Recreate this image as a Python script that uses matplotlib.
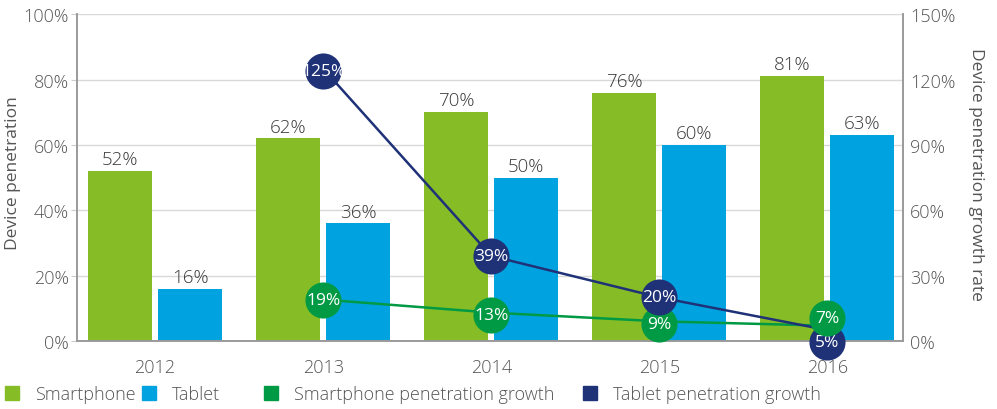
import matplotlib
matplotlib.use("Agg")
import matplotlib.pyplot as plt
from matplotlib.transforms import offset_copy
from matplotlib.lines import Line2D
import numpy as np

plt.rcParams['font.family'] = ['Open Sans', 'DejaVu Sans']
plt.rcParams['font.weight'] = 'light'

years = ['2012', '2013', '2014', '2015', '2016']
smartphone = [52, 62, 70, 76, 81]
tablet = [16, 36, 50, 60, 63]
growth_years = [1, 2, 3, 4]
smartphone_growth = [19, 13, 9, 7]
tablet_growth = [125, 39, 20, 5]

c_smart = '#86BC25'
c_tab = '#00A3E0'
c_sgrow = '#009A44'
c_tgrow = '#1F3278'
c_text = '#3a3a3a'
c_tick = '#555555'
c_axis = '#9a9a9a'

fig = plt.figure(figsize=(9.97, 4.10), dpi=100)
ax = fig.add_axes([0.0772, 0.166, 0.8285, 0.797])
ax2 = ax.twinx()

x = np.arange(len(years))
w = 0.38
gap = 0.036
b1 = ax.bar(x - w / 2 - gap / 2, smartphone, w, color=c_smart, zorder=2)
b2 = ax.bar(x + w / 2 + gap / 2, tablet, w, color=c_tab, zorder=2)
for bars, vals in ((b1, smartphone), (b2, tablet)):
    for r, v in zip(bars, vals):
        ax.annotate(f'{v}%', (r.get_x() + r.get_width() / 2, v), xytext=(0, 2),
                    textcoords='offset points', ha='center', va='bottom',
                    fontsize=13.5, color=c_text)

ax.set_xlim(-0.465, 4.45)
ax.set_ylim(0, 100)
ax.set_yticks(range(0, 101, 20))
ax.set_yticklabels([f'{v}%' for v in range(0, 101, 20)])
ax.set_xticks(x)
ax.set_xticklabels(years)
ax.grid(axis='y', color='#d9d9d9', linewidth=1, zorder=0)
ax.set_axisbelow(True)
ax.set_ylabel('Device penetration', fontsize=12.5, color=c_tick, va='center')
ax.yaxis.set_label_coords(-0.0775, 0.518)

ax2.set_ylim(0, 150)
ax2.set_yticks(range(0, 151, 30))
ax2.set_yticklabels([f'{v}%' for v in range(0, 151, 30)])
ax2.set_ylabel('Device penetration growth rate', fontsize=12.5, color=c_tick,
               rotation=270, va='center')
ax2.yaxis.set_label_coords(1.088, 0.512)

for a in (ax, ax2):
    a.spines['top'].set_visible(False)
    for s in ('left', 'right', 'bottom'):
        a.spines[s].set_color(c_axis)
        a.spines[s].set_linewidth(1.2)
    a.tick_params(axis='both', labelsize=13, colors=c_tick, length=0, pad=6)
ax.tick_params(axis='y', length=4, color='#cccccc', pad=2)
ax.tick_params(axis='x', pad=12)
ax2.tick_params(axis='y', pad=5)

ax2.plot(growth_years, smartphone_growth, color=c_sgrow, lw=1.8, zorder=3)
ax2.plot(growth_years, tablet_growth, color=c_tgrow, lw=1.8, zorder=3)

# circle labels, a few nudged apart so they don't cover each other
s_offsets = [0, -2, -3, 8]
t_offsets = [-2, 0, 0, -12]
s_z = [5, 5, 4, 6]
t_z = [5, 5, 5, 4]
for series, offs, zs, col in ((smartphone_growth, s_offsets, s_z, c_sgrow),
                              (tablet_growth, t_offsets, t_z, c_tgrow)):
    for xi, v, dy, z in zip(growth_years, series, offs, zs):
        tr = offset_copy(ax2.transData, fig=fig, x=0, y=dy, units='dots')
        ax2.plot([xi], [v], 'o', ms=26, color=col, mec='none',
                 transform=tr, zorder=z, clip_on=False)
        ax2.text(xi, v, f'{v}%', transform=tr, ha='center', va='center',
                 fontsize=12.5, fontweight='normal', color='white',
                 zorder=z + 0.1, clip_on=False)

# legend entries placed one by one to match the spacing of the original
labels = ['Smartphone', 'Tablet', 'Smartphone penetration growth', 'Tablet penetration growth']
colors = [c_smart, c_tab, c_sgrow, c_tgrow]
leg_x = [3, 140, 262, 581]
for lab, col, px in zip(labels, colors, leg_x):
    h = Line2D([], [], ls='', marker='s', ms=10, color=col)
    fig.legend([h], [lab], loc='center left', bbox_to_anchor=(px / 997, 15 / 410),
               frameon=False, fontsize=13, handlelength=1.0, handletextpad=0.75,
               borderpad=0, borderaxespad=0, labelcolor=c_tick)

fig.savefig('out.png', dpi=100)
